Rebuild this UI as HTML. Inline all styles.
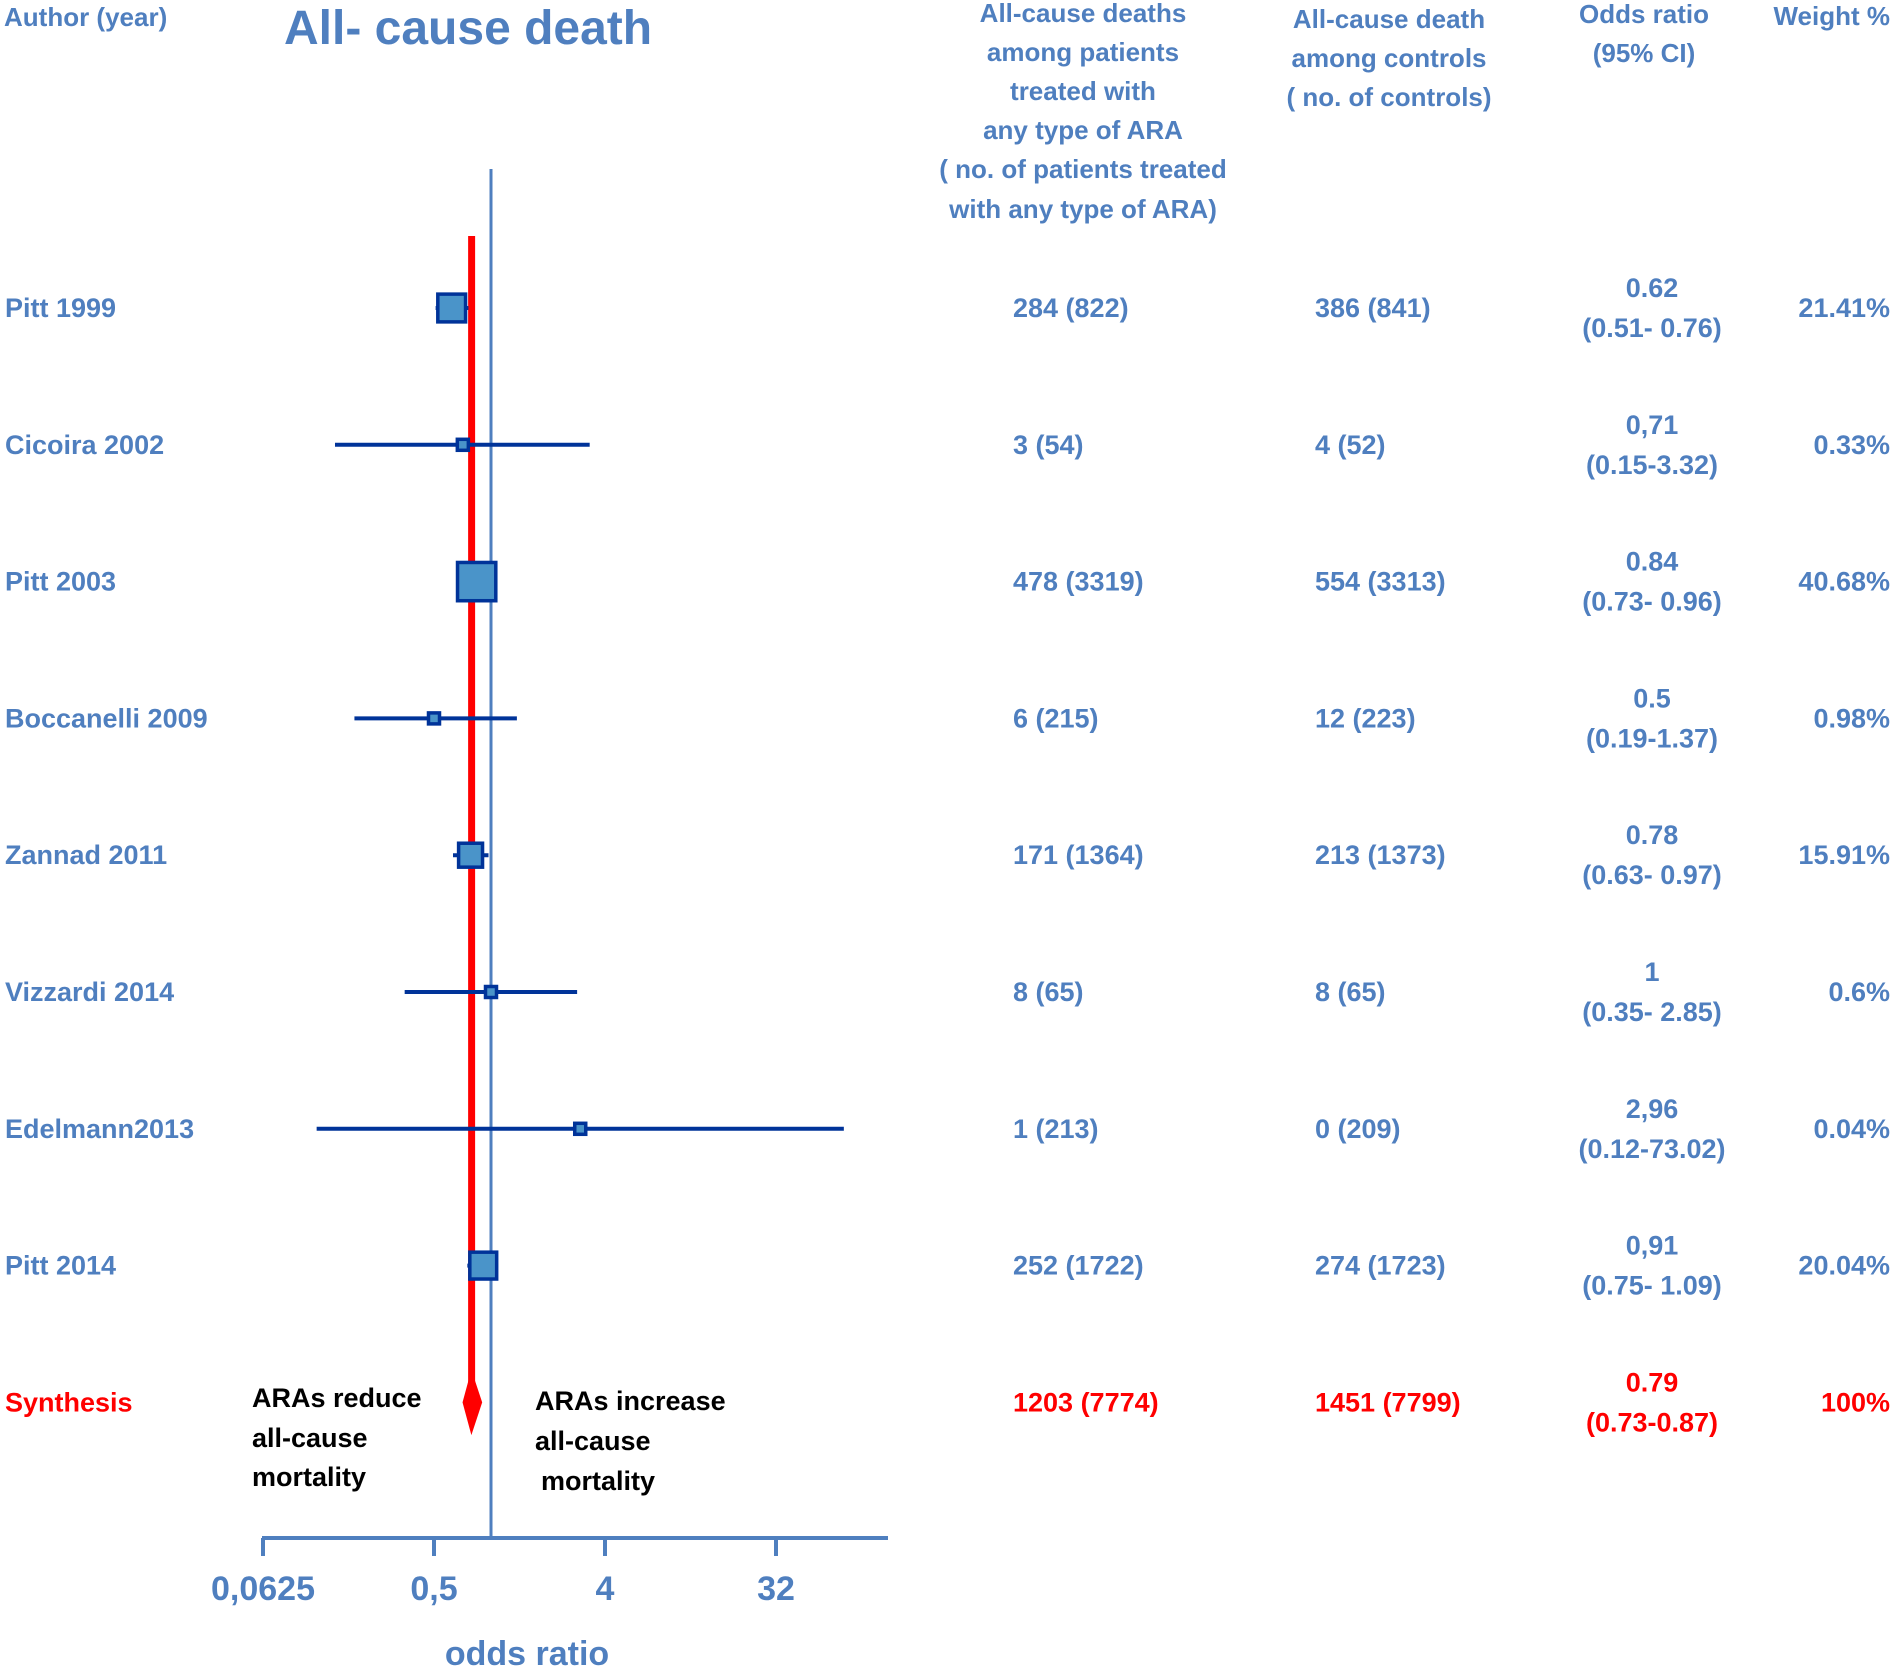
<!DOCTYPE html>
<html><head><meta charset="utf-8"><style>
html,body{margin:0;padding:0;background:#fff;}
svg{display:block;}
text{font-family:"Liberation Sans",sans-serif;font-weight:bold;}
</style></head><body>
<svg id="chart" width="1894" height="1672" viewBox="0 0 1894 1672">
<g id="hdr" fill="#4f7fbf" font-size="26">
<text x="4" y="26">Author (year)</text>
<text x="284" y="44" font-size="48">All- cause death</text>
<g text-anchor="middle">
<text x="1083" y="22">All-cause  deaths</text><text x="1083" y="61">among  patients</text><text x="1083" y="100">treated with</text><text x="1083" y="139">any  type of ARA</text><text x="1083" y="178">( no. of patients treated</text><text x="1083" y="218">with any type of ARA)</text>
</g>
<g text-anchor="middle">
<text x="1389" y="28">All-cause death</text><text x="1389" y="67">among controls</text><text x="1389" y="106">( no. of controls)</text>
</g>
<g text-anchor="middle">
<text x="1644" y="23">Odds ratio</text><text x="1644" y="62">(95%  CI)</text>
</g>
<text x="1890" y="25" text-anchor="end">Weight %</text>
</g>
<g id="plot"></g>
<g id="rows"></g>
</svg>
<script>
const authors=["Pitt 1999","Cicoira 2002","Pitt 2003","Boccanelli 2009","Zannad 2011","Vizzardi 2014","Edelmann2013","Pitt 2014"];
const orVals=[0.62,0.71,0.84,0.5,0.78,1,2.96,0.91];
const ciLow=[0.51,0.15,0.73,0.19,0.63,0.35,0.12,0.75];
const ciHigh=[0.76,3.32,0.96,1.37,0.97,2.85,73.02,1.09];
const weights=[21.41,0.33,40.68,0.98,15.91,0.6,0.04,20.04];
const orText=["0.62","0,71","0.84","0.5","0.78","1","2,96","0,91"];
const ciText=["(0.51- 0.76)","(0.15-3.32)","(0.73- 0.96)","(0.19-1.37)","(0.63- 0.97)","(0.35- 2.85)","(0.12-73.02)","(0.75- 1.09)"];
const weightText=["21.41%","0.33%","40.68%","0.98%","15.91%","0.6%","0.04%","20.04%"];
const treatedText=["284 (822)","3 (54)","478 (3319)","6 (215)","171 (1364)","8 (65)","1 (213)","252 (1722)"];
const controlText=["386 (841)","4 (52)","554 (3313)","12 (223)","213 (1373)","8 (65)","0 (209)","274 (1723)"];
const pooledOR=0.79, pooledLow=0.73, pooledHigh=0.87;
const tickVals=[0.0625,0.5,4,32];
const tickLabels=["0,0625","0,5","4","32"];

const NS="http://www.w3.org/2000/svg";
const plot=document.getElementById('plot'), rows=document.getElementById('rows');
function X(v){return 434+57*Math.log2(v/0.5);}
function Y(i){return 308+136.8*i;}
function mk(tag,attrs,parent,txt){const e=document.createElementNS(NS,tag);for(const k in attrs)e.setAttribute(k,attrs[k]);if(txt!==undefined)e.textContent=txt;parent.appendChild(e);return e;}
const blue="#4f7fbf", dark="#003399", fill="#4a94c9";
let ax=mk('line',{x1:262,y1:1538,x2:888,y2:1538,stroke:blue,'stroke-width':4},plot);


tickVals.forEach((t,i)=>{
  let tk=mk('line',{x1:X(t),y1:1538,x2:X(t),y2:1556,stroke:blue,'stroke-width':4},plot);
  
  
  let tl=mk('text',{x:X(t),y:1600,'text-anchor':'middle',fill:blue,'font-size':34},plot,tickLabels[i]);
  
  
});
let at=mk('text',{x:527,y:1665,'text-anchor':'middle',fill:blue,'font-size':34},plot,'odds ratio');


let ref=mk('line',{x1:X(1),y1:169,x2:X(1),y2:1538,stroke:blue,'stroke-width':3},plot);


let pl=mk('line',{x1:X(pooledOR),y1:236,x2:X(pooledOR),y2:1420,stroke:'#ff0000','stroke-width':7},plot);


authors.forEach((a,i)=>{
  const y=Y(i);
  let w=mk('line',{x1:X(ciLow[i]),y1:y,x2:X(ciHigh[i]),y2:y,stroke:dark,'stroke-width':4},plot);
  
  
  const s=Math.max(11,6*Math.sqrt(weights[i]));
  let sq=mk('rect',{x:X(orVals[i])-s/2,y:y-s/2,width:s,height:s,fill:fill,stroke:dark,'stroke-width':3.5},plot);
  
  
  let g=mk('g',{fill:blue,'font-size':27},rows);
  
  
  mk('text',{x:5,y:y+9},g,a);
  mk('text',{x:1013,y:y+9},g,treatedText[i]);
  mk('text',{x:1315,y:y+9},g,controlText[i]);
  mk('text',{x:1652,y:y-11,'text-anchor':'middle'},g,orText[i]);
  mk('text',{x:1652,y:y+29,'text-anchor':'middle'},g,ciText[i]);
  mk('text',{x:1890,y:y+9,'text-anchor':'end'},g,weightText[i]);
});
const sy=Y(8);
let dm=mk('polygon',{points:`${X(pooledLow)},${sy} ${X(pooledOR)},${sy-24} ${X(pooledHigh)},${sy} ${X(pooledOR)},${sy+24}`,fill:'#ff0000',stroke:'#ff0000','stroke-width':5},plot);


let sg=mk('g',{fill:'#ff0000','font-size':27},rows);


mk('text',{x:5,y:sy+9},sg,'Synthesis');
mk('text',{x:1013,y:sy+9},sg,'1203 (7774)');
mk('text',{x:1315,y:sy+9},sg,'1451 (7799)');
mk('text',{x:1652,y:sy-11,'text-anchor':'middle'},sg,'0.79');
mk('text',{x:1652,y:sy+29,'text-anchor':'middle'},sg,'(0.73-0.87)');
mk('text',{x:1890,y:sy+9,'text-anchor':'end'},sg,'100%');
let n1=mk('g',{fill:'#000','font-size':27},rows);


mk('text',{x:252,y:1407},n1,'ARAs reduce');
mk('text',{x:252,y:1447},n1,'all-cause');
mk('text',{x:252,y:1486},n1,'mortality');
let n2=mk('g',{fill:'#000','font-size':27},rows);


mk('text',{x:535,y:1410},n2,'ARAs increase');
mk('text',{x:535,y:1450},n2,'all-cause');
mk('text',{x:541,y:1490},n2,'mortality');
</script>
</body></html>
